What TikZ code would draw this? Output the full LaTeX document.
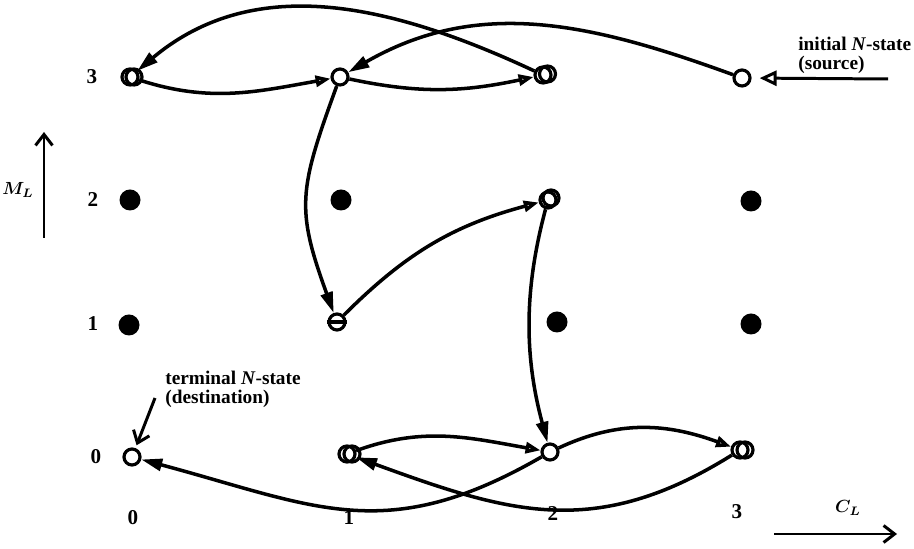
\documentclass[tikz,border=0pt]{standalone}
\usepackage{amsmath}
\usepackage{fontspec}
\setmainfont{Liberation Serif}
\usetikzlibrary{arrows.meta}

\begin{document}
\begin{tikzpicture}[
  st/.style={circle,draw,line width=1.8pt,minimum size=0.32cm,inner sep=0pt},
  dot/.style={circle,fill,minimum size=0.42cm,inner sep=0pt},
  rng/.style={line width=1.8pt},
  num/.style={font=\fontsize{12}{12}\selectfont\bfseries},
  fa/.style={-{Triangle[length=0.42cm,width=0.24cm]},line width=2pt},
  ha/.style={-{Triangle[open,length=0.3cm,width=0.22cm]},line width=2pt},
  ax/.style={-{Straight Barb[length=0.22cm,width=0.34cm]},line width=1.7pt},
  txt/.style={align=left,inner sep=0pt,font=\fontsize{11}{10.5}\selectfont\bfseries}]
  \useasboundingbox (0,0) rectangle (18.28,10.98);

  \node[st]  (n03) at (2.60,9.44)  {};
  \node[st]  (n13) at (6.80,9.44)  {};
  \node[st]  (n23) at (10.86,9.48) {};
  \node[st]  (n33) at (14.84,9.42) {};
  \node[dot] (n02) at (2.60,6.98)  {};
  \node[dot] (n12) at (6.82,6.98)  {};
  \node[st]  (n22) at (10.96,6.98) {};
  \node[dot] (n32) at (15.02,6.96) {};
  \node[dot] (n01) at (2.58,4.48)  {};
  \node[st]  (n11) at (6.74,4.54)  {};
  \node[dot] (n21) at (11.14,4.54) {};
  \node[dot] (n31) at (15.02,4.50) {};
  \node[st]  (n00) at (2.64,1.84)  {};
  \node[st]  (n10) at (6.94,1.90)  {};
  \node[st]  (n20) at (11.00,1.94) {};
  \node[st]  (n30) at (14.80,1.98) {};
  \foreach \n/\dx/\dy in {n03/0.08/0,n23/0.09/0.02,n22/0.06/0.04,n10/0.1/0,n30/0.1/0}
    \draw[rng] ([shift={(\dx,\dy)}]\n.center) circle (0.16);
  \draw[rng] (n11.west) -- (n11.east);

  \node[num] (r3) at (1.84,9.44) {3};
  \node[num] (r2) at (1.86,6.98) {2};
  \node[num] (r1) at (1.86,4.50) {1};
  \node[num] (r0) at (1.92,1.84) {0};
  \node[num] (c0) at (2.66,0.62)  {0};
  \node[num] (c1) at (6.98,0.62)  {1};
  \node[num] (c2) at (11.06,0.70) {2};
  \node[num] (c3) at (14.74,0.74) {3};

  \coordinate (ml0) at (0.88,6.22);
  \coordinate (ml1) at (0.88,8.34);
  \draw[ax] (ml0) -- (ml1);
  \node (ml) at (0.36,7.18) {$\boldsymbol{M_L}$};
  \coordinate (cl0) at (15.48,0.30);
  \coordinate (cl1) at (17.94,0.30);
  \draw[ax] (cl0) -- (cl1);
  \node (cl) at (16.96,0.82) {$\boldsymbol{C_L}$};

  \node[txt,anchor=north west] (ini) at (15.96,10.24) {initial \textit{N}-state\\(source)};
  \coordinate (ia) at (17.76,9.40);
  \draw[-{Triangle[open,length=0.34cm,width=0.3cm]},line width=1.7pt,shorten >=0.16cm] (ia) -- (n33);
  \node[txt,anchor=north west] (ter) at (3.30,3.56) {terminal \textit{N}-state\\(destination)};
  \coordinate (ta) at (3.10,3.02);
  \draw[ax,shorten >=0.06cm] (ta) -- (n00);

  \draw[fa] (n33) to[out=160,in=30] (n13);
  \draw[ha] (n13) to[out=-12,in=192] (n23);
  \draw[fa] (n23) to[out=155,in=40] (n03);
  \draw[ha] (n03) to[out=-18,in=190] (n13);
  \draw[fa] (n13) to[out=250,in=110,looseness=1.25] (n11);
  \draw[ha] (n11) to[out=45,in=195] (n22);
  \draw[fa] (n22) to[out=255,in=105,looseness=0.95] (n20);
  \draw[ha] (n20) to[out=25,in=160] (n30);
  \draw[fa] (n30) to[out=212,in=340,looseness=1.1] (n10);
  \draw[ha] (n10) to[out=20,in=170] (n20);
  \draw[fa] (n20) to[out=210,in=345,looseness=1.15] (n00);
\end{tikzpicture}
\end{document}
